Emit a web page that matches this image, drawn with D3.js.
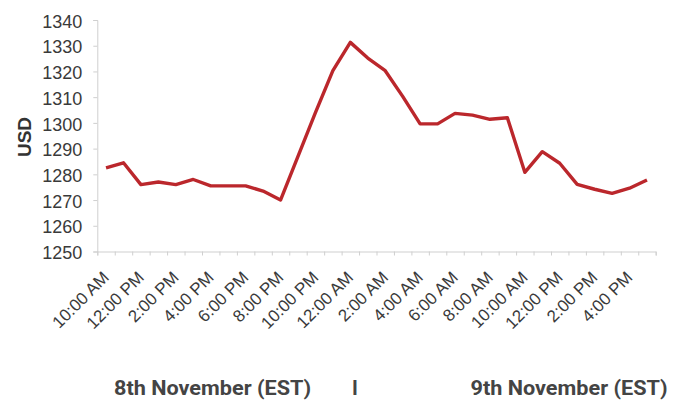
<!DOCTYPE html>
<html>
<head>
<meta charset="utf-8">
<script src="https://cdn.jsdelivr.net/npm/d3@7"></script>
<style>
  html, body { margin: 0; padding: 0; background: #fff; }
  svg { display: block; }
</style>
</head>
<body>
<svg id="chart" width="674" height="407"></svg>
<script>
// Hourly observations, 8th Nov 10:00 AM to 9th Nov 5:00 PM (EST)
const times = [
  "10:00 AM", "11:00 AM", "12:00 PM", "1:00 PM", "2:00 PM", "3:00 PM", "4:00 PM", "5:00 PM",
  "6:00 PM", "7:00 PM", "8:00 PM", "9:00 PM", "10:00 PM", "11:00 PM", "12:00 AM", "1:00 AM",
  "2:00 AM", "3:00 AM", "4:00 AM", "5:00 AM", "6:00 AM", "7:00 AM", "8:00 AM", "9:00 AM",
  "10:00 AM", "11:00 AM", "12:00 PM", "1:00 PM", "2:00 PM", "3:00 PM", "4:00 PM", "5:00 PM"
];
const prices = [
  1282.5, 1284.5, 1276, 1277, 1276, 1278, 1275.5, 1275.5,
  1275.5, 1273.5, 1270, 1287, 1304, 1320.3, 1331.3, 1325.2,
  1320.3, 1310.3, 1299.6, 1299.6, 1303.7, 1303, 1301.4, 1302,
  1280.8, 1288.8, 1284.3, 1276.1, 1274.2, 1272.6, 1274.6, 1277.8
];
const labelledTimes = [
  "10:00 AM", "12:00 PM", "2:00 PM", "4:00 PM", "6:00 PM", "8:00 PM", "10:00 PM", "12:00 AM",
  "2:00 AM", "4:00 AM", "6:00 AM", "8:00 AM", "10:00 AM", "12:00 PM", "2:00 PM", "4:00 PM"
];
const yTicks = [1250, 1260, 1270, 1280, 1290, 1300, 1310, 1320, 1330, 1340];
const yTitle = "USD";
const dayLabels = ["8th November (EST)", "I", "9th November (EST)"];

const svg = d3.select("#chart");
const mLeft = 97.3, mRight = 655.7, mTop = 20, mBottom = 251.5;

const idx = d3.range(times.length);
const x = d3.scaleBand().domain(idx).range([mLeft, mRight]).padding(0);
const xEdge = d3.scaleLinear().domain([0, times.length]).range([mLeft, mRight]);
const y = d3.scaleLinear().domain([1250, 1340]).range([mBottom, mTop]);
const cx = i => x(i) + x.bandwidth() / 2;

const axisColor = "#cfcfcf";
const textColor = "#3a3a3a";

// Y axis
const yAxis = svg.append("g")
  .attr("transform", `translate(${mLeft},0)`)
  .call(d3.axisLeft(y).tickValues(yTicks).tickSize(4).tickPadding(11).tickFormat(d3.format("d")));
yAxis.select(".domain").attr("stroke", axisColor);
yAxis.selectAll(".tick line").attr("stroke", axisColor);
yAxis.selectAll(".tick text")
  .attr("fill", textColor)
  .style("font-family", "'Liberation Sans', Arial, sans-serif")
  .style("font-size", "18px")
  .attr("dy", "0.4em");

// X axis (ticks between categories)
const xAxis = svg.append("g")
  .attr("transform", `translate(0,${mBottom})`)
  .call(d3.axisBottom(xEdge).tickValues(d3.range(0, times.length + 1)).tickSize(4).tickFormat(""));
xAxis.select(".domain").attr("stroke", axisColor);
xAxis.selectAll(".tick line").attr("stroke", axisColor);

// X labels on every second category
const labelIdx = idx.filter(i => i % 2 === 0);
svg.append("g").selectAll("text")
  .data(labelIdx)
  .join("text")
  .attr("transform", (i) => `translate(${cx(i) + 4},${mBottom + 27}) rotate(-45)`)
  .attr("text-anchor", "end")
  .attr("fill", textColor)
  .style("font-family", "'Liberation Sans', Arial, sans-serif")
  .style("font-size", "17px")
  .text((i, k) => labelledTimes[k]);

// Y title
svg.append("text")
  .attr("transform", `translate(31,137) rotate(-90)`)
  .attr("text-anchor", "middle")
  .attr("fill", "#333")
  .style("font-family", "'Liberation Sans', Arial, sans-serif")
  .style("font-weight", "bold")
  .style("font-size", "19px")
  .text(yTitle);

// Line
const line = d3.line().x((d, i) => cx(i)).y(d => y(d));
svg.append("path")
  .datum(prices)
  .attr("fill", "none")
  .attr("stroke", "#bb272c")
  .attr("stroke-width", 3.4)
  .attr("stroke-linejoin", "round")
  .attr("d", line);

// Day labels
const dayX = [212.5, 355, 569];
const dayW = [197, null, 197];
svg.append("g").selectAll("text")
  .data(dayLabels)
  .join("text")
  .attr("x", (d, i) => dayX[i])
  .attr("y", 395)
  .attr("text-anchor", "middle")
  .attr("fill", "#444")
  .attr("textLength", (d, i) => dayW[i])
  .attr("lengthAdjust", "spacingAndGlyphs")
  .style("font-family", "Roboto, sans-serif")
  .style("font-weight", "bold")
  .style("font-size", "20px")
  .text(d => d);
</script>
</body>
</html>
